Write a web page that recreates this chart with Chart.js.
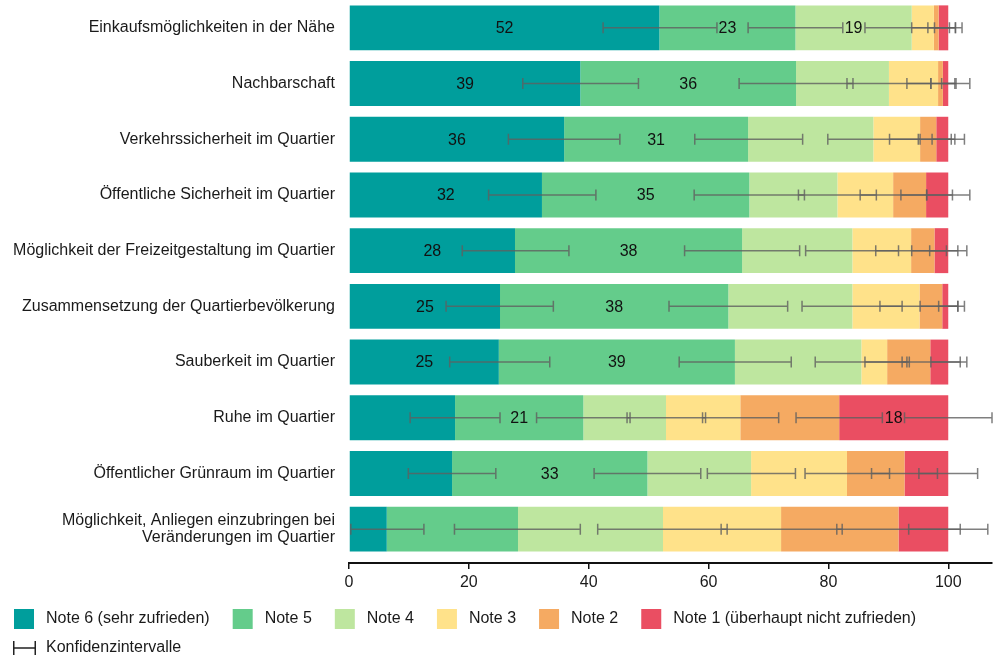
<!DOCTYPE html>
<html><head><meta charset="utf-8">
<script src="https://cdn.jsdelivr.net/npm/chart.js@4.4.1/dist/chart.umd.min.js"></script>
<style>html,body{margin:0;padding:0;background:#fff;}</style>
</head><body>
<canvas id="c" width="993" height="662"></canvas>
<script>
// ---------- data ----------
const categories = [
  'Einkaufsmöglichkeiten in der Nähe',
  'Nachbarschaft',
  'Verkehrssicherheit im Quartier',
  'Öffentliche Sicherheit im Quartier',
  'Möglichkeit der Freizeitgestaltung im Quartier',
  'Zusammensetzung der Quartierbevölkerung',
  'Sauberkeit im Quartier',
  'Ruhe im Quartier',
  'Öffentlicher Grünraum im Quartier',
  ['Möglichkeit, Anliegen einzubringen bei', 'Veränderungen im Quartier']
];
const seriesNames = ['Note 6 (sehr zufrieden)', 'Note 5', 'Note 4', 'Note 3', 'Note 2', 'Note 1 (überhaupt nicht zufrieden)'];
const ciLegendName = 'Konfidenzintervalle';

const note6 = [51.8, 38.6, 35.9, 32.2, 27.7, 25.2, 25.0, 17.7, 17.2, 6.3];
const note5 = [22.7, 36.0, 30.7, 34.6, 37.9, 38.1, 39.4, 21.4, 32.6, 21.9];
const note4 = [19.4, 15.5, 20.9, 14.7, 18.4, 20.7, 21.1, 13.8, 17.3, 24.2];
const note3 = [3.7, 8.2, 7.8, 9.3, 9.8, 11.2, 4.3, 12.4, 16.0, 19.7];
const note2 = [0.8, 0.8, 2.7, 5.5, 3.9, 3.8, 7.2, 16.5, 9.6, 19.6];
const note1 = [1.6, 0.9, 2.0, 3.7, 2.3, 1.0, 3.0, 18.2, 7.3, 8.3];

// confidence intervals (on the cumulative scale)
const ciLow6  = [42.4, 29.0, 26.6, 23.3, 18.9, 16.2, 16.8, 10.2, 9.9, 0.3];
const ciHigh6 = [61.4, 48.3, 45.2, 41.2, 36.7, 34.1, 33.5, 25.2, 24.5, 12.5];
const ciLow5  = [66.6, 65.1, 57.7, 57.6, 56.0, 53.4, 55.1, 31.3, 40.9, 17.6];
const ciHigh5 = [82.4, 84.1, 75.7, 76.0, 75.2, 73.2, 73.8, 46.9, 58.7, 38.6];
const ciLow4  = [86.1, 83.1, 79.9, 75.0, 76.2, 75.6, 77.8, 46.4, 59.8, 41.5];
const ciHigh4 = [101.2, 97.1, 95.3, 88.0, 91.7, 92.3, 93.1, 59.5, 74.5, 63.1];
const ciLow3  = [93.9, 93.1, 90.2, 85.3, 87.9, 88.6, 86.1, 59.0, 76.1, 62.1];
const ciHigh3 = [101.2, 103.6, 100.5, 96.4, 99.7, 101.6, 93.5, 71.7, 90.2, 82.3];
const ciLow2  = [96.6, 97.1, 95.0, 92.1, 93.9, 95.3, 92.3, 74.6, 87.2, 81.4];
const ciHigh2 = [100.2, 101.3, 101.1, 100.7, 101.6, 102.7, 102.0, 89.0, 98.2, 102.0];
const ciLow1  = [97.7, 98.9, 97.3, 96.4, 96.9, 98.4, 97.1, 92.7, 95.1, 93.4];
const ciHigh1 = [102.3, 101.1, 102.7, 103.6, 103.1, 101.6, 103.1, 107.3, 104.9, 106.6];

// which segments carry a value label
const show6 = [1,1,1,1,1,1,1,0,0,0];
const show5 = [1,1,1,1,1,1,1,1,1,0];
const show4 = [1,0,0,0,0,0,0,0,0,0];
const show3 = [0,0,0,0,0,0,0,0,0,0];
const show2 = [0,0,0,0,0,0,0,0,0,0];
const show1 = [0,0,0,0,0,0,0,1,0,0];

const xTicks = [0, 20, 40, 60, 80, 100];

// ---------- styles ----------
const colors = ['#009e9c', '#64cc8b', '#bee69f', '#ffe28a', '#f5aa62', '#ea4e62'];
const FONT = '"Liberation Sans", Arial, Helvetica, sans-serif';
const TEXT = '#1a1a1a';

const values = [note6, note5, note4, note3, note2, note1];
const ciLow = [ciLow6, ciLow5, ciLow4, ciLow3, ciLow2, ciLow1];
const ciHigh = [ciHigh6, ciHigh5, ciHigh4, ciHigh3, ciHigh2, ciHigh1];
const shown = [show6, show5, show4, show3, show2, show1];

function makeSwatch(color) {
  const c = document.createElement('canvas'); c.width = 34; c.height = 20;
  const g = c.getContext('2d'); g.fillStyle = color; g.fillRect(10, 0, 20, 20); return c;
}
function makeCiIcon() {
  const c = document.createElement('canvas'); c.width = 34; c.height = 20;
  const g = c.getContext('2d'); g.strokeStyle = '#222'; g.lineWidth = 1.5;
  g.beginPath();
  g.moveTo(9.75, 3); g.lineTo(9.75, 17);
  g.moveTo(9.75, 10); g.lineTo(31.25, 10);
  g.moveTo(31.25, 3); g.lineTo(31.25, 17);
  g.stroke(); return c;
}
const swatches = colors.map(makeSwatch);
const ciIcon = makeCiIcon();

const overlay = {
  id: 'overlay',
  afterDatasetsDraw(chart) {
    const ctx = chart.ctx, xs = chart.scales.x, ys = chart.scales.y;
    ctx.save();
    // confidence intervals
    ctx.strokeStyle = 'rgba(95,95,95,0.8)';
    ctx.lineWidth = 1.5;
    for (let i = 0; i < values.length; i++) {
      for (let j = 0; j < categories.length; j++) {
        const y = ys.getPixelForValue(j);
        const x1 = xs.getPixelForValue(ciLow[i][j]);
        const x2 = xs.getPixelForValue(ciHigh[i][j]);
        ctx.beginPath();
        ctx.moveTo(x1, y); ctx.lineTo(x2, y);
        ctx.moveTo(x1, y - 5.5); ctx.lineTo(x1, y + 5.5);
        ctx.moveTo(x2, y - 5.5); ctx.lineTo(x2, y + 5.5);
        ctx.stroke();
      }
    }
    // value labels
    ctx.font = '16px ' + FONT;
    ctx.fillStyle = '#111';
    ctx.textAlign = 'center';
    ctx.textBaseline = 'middle';
    chart.data.datasets.forEach((ds, i) => {
      const meta = chart.getDatasetMeta(i);
      meta.data.forEach((bar, j) => {
        if (!shown[i][j]) return;
        ctx.fillText(String(Math.round(ds.data[j])), (bar.x + bar.base) / 2, bar.y + 1);
      });
    });
    ctx.restore();
  }
};

new Chart(document.getElementById('c'), {
  type: 'bar',
  data: {
    labels: categories,
    datasets: values.map((v, i) => ({
      label: seriesNames[i],
      data: v,
      backgroundColor: colors[i],
      borderWidth: 0,
      categoryPercentage: 1,
      barPercentage: 0.807
    }))
  },
  options: {
    indexAxis: 'y',
    responsive: false,
    animation: false,
    layout: { padding: { left: -9, right: 1, top: 0, bottom: -4 } },
    scales: {
      x: {
        type: 'linear', stacked: true, min: 0, max: 107.3, weight: 1,
        afterBuildTicks(scale) { scale.ticks = xTicks.map(v => ({ value: v })); },
        afterFit(scale) { scale.height = 35; },
        grid: { display: true, drawOnChartArea: false, drawTicks: true, tickLength: 6, color: '#111', lineWidth: 1.5 },
        border: { display: true, color: '#111', width: 2 },
        ticks: { color: TEXT, font: { family: FONT, size: 16 }, padding: 4, maxRotation: 0 }
      },
      xPad: {
        type: 'linear', position: 'bottom', weight: 0, min: 0, max: 1,
        afterFit(scale) { scale.height = 6; },
        grid: { display: false }, border: { display: false }, ticks: { display: false }
      },
      y: {
        stacked: true,
        afterFit(scale) { scale.width = 358; scale.paddingTop = 0; scale.paddingBottom = 0; },
        grid: { display: false, drawTicks: false }, border: { display: false },
        ticks: { color: TEXT, font: { family: FONT, size: 16, lineHeight: 1.08 }, padding: 14 }
      }
    },
    plugins: {
      tooltip: { enabled: false },
      legend: {
        position: 'bottom', align: 'start',
        labels: {
          usePointStyle: true, pointStyleWidth: 34, padding: 13,
          color: TEXT, font: { family: FONT, size: 16 },
          generateLabels(chart) {
            const items = chart.data.datasets.map((ds, i) => ({
              text: ds.label, pointStyle: swatches[i], fillStyle: ds.backgroundColor,
              strokeStyle: 'transparent', lineWidth: 0, hidden: false, datasetIndex: i, fontColor: TEXT
            }));
            items.push({ text: ciLegendName, pointStyle: ciIcon, fillStyle: 'transparent',
              strokeStyle: 'transparent', lineWidth: 0, hidden: false, fontColor: TEXT });
            return items;
          }
        }
      }
    }
  },
  plugins: [overlay]
});
</script>
</body></html>
